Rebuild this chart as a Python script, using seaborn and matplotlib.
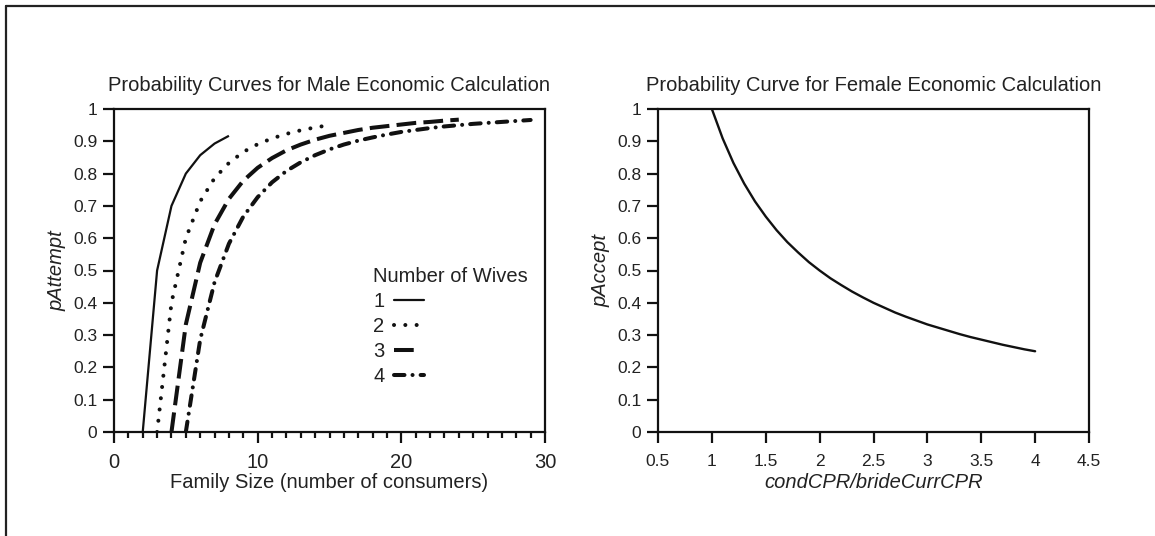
import matplotlib
matplotlib.use("Agg")
import matplotlib.pyplot as plt
from matplotlib.lines import Line2D
from matplotlib.ticker import FixedLocator, MultipleLocator
import pandas as pd
import seaborn as sns

# ---- male economic calculation: pAttempt vs family size, per number of wives ----
wives = ["1", "2", "3", "4"]

size_w1 = [2, 3, 4, 5, 6, 7, 8]
p_attempt_w1 = [0, 0.5, 0.7, 0.8, 0.857, 0.893, 0.917]

size_w2 = [3, 4, 5, 6, 7, 8, 9, 10, 11, 12, 13, 14, 15]
p_attempt_w2 = [0, 0.4, 0.6, 0.714, 0.786, 0.833, 0.867, 0.891, 0.909, 0.923,
                0.934, 0.943, 0.95]

size_w3 = [4, 5, 6, 7, 8, 9, 10, 11, 12, 13, 14, 15, 16, 17, 18, 19, 20, 21,
           22, 23, 24]
p_attempt_w3 = [0, 0.333, 0.524, 0.643, 0.722, 0.778, 0.818, 0.848, 0.872,
                0.890, 0.905, 0.917, 0.926, 0.935, 0.942, 0.947, 0.952, 0.957,
                0.960, 0.964, 0.967]

size_w4 = [5, 6, 7, 8, 9, 10, 11, 12, 13, 14, 15, 16, 17, 18, 19, 20, 21, 22,
           23, 24, 25, 26, 27, 28, 29]
p_attempt_w4 = [0, 0.286, 0.464, 0.583, 0.667, 0.727, 0.773, 0.808, 0.835,
                0.857, 0.875, 0.890, 0.902, 0.912, 0.921, 0.929, 0.935, 0.941,
                0.946, 0.950, 0.954, 0.957, 0.960, 0.963, 0.966]

male_sizes = [size_w1, size_w2, size_w3, size_w4]
male_probs = [p_attempt_w1, p_attempt_w2, p_attempt_w3, p_attempt_w4]

# ---- female economic calculation: pAccept vs CPR ratio ----
cpr_ratio = [1.0, 1.1, 1.2, 1.3, 1.4, 1.5, 1.6, 1.7, 1.8, 1.9, 2.0, 2.1, 2.2,
             2.3, 2.4, 2.5, 2.6, 2.7, 2.8, 2.9, 3.0, 3.1, 3.2, 3.3, 3.4, 3.5,
             3.6, 3.7, 3.8, 3.9, 4.0]
p_accept = [1.000, 0.909, 0.833, 0.769, 0.714, 0.667, 0.625, 0.588, 0.556,
            0.526, 0.500, 0.476, 0.455, 0.435, 0.417, 0.400, 0.385, 0.370,
            0.357, 0.345, 0.333, 0.323, 0.313, 0.303, 0.294, 0.286, 0.278,
            0.270, 0.263, 0.256, 0.250]

y_ticks = [0, 0.1, 0.2, 0.3, 0.4, 0.5, 0.6, 0.7, 0.8, 0.9, 1]
y_tick_labels = ["0", "0.1", "0.2", "0.3", "0.4", "0.5", "0.6", "0.7", "0.8",
                 "0.9", "1"]
left_x_ticks = [0, 10, 20, 30]
left_x_tick_labels = ["0", "10", "20", "30"]
right_x_ticks = [0.5, 1, 1.5, 2, 2.5, 3, 3.5, 4, 4.5]
right_x_tick_labels = ["0.5", "1", "1.5", "2", "2.5", "3", "3.5", "4", "4.5"]

sns.set_theme(style="ticks")
plt.rcParams["font.family"] = ["Liberation Sans", "DejaVu Sans"]

INK = "#111111"
TXT = "#222222"
BIG = 14.5
SMALL = 12.5

# line look per number of wives:
# (linewidth, dash pattern on the curve, dash pattern in the legend, capstyle)
line_looks = {
    "1": (1.6, None, None, "butt"),
    "2": (2.9, (0.01, 2.8), (0.01, 2.8), "round"),
    "3": (2.9, (4.9, 1.8), (4.9, 6.0), "butt"),
    "4": (2.9, (2.6, 2.0, 0.01, 2.0), (2.6, 2.0, 0.01, 2.0), "round"),
}

W, H = 1155, 536
fig = plt.figure(figsize=(W / 100, H / 100), dpi=100)
fig.patch.set_facecolor("white")

ax_m = fig.add_axes([114 / W, 1 - 432 / H, 431 / W, 323 / H])
ax_f = fig.add_axes([658 / W, 1 - 432 / H, 431 / W, 323 / H])

male_df = pd.concat(
    [pd.DataFrame({"size": s, "p": p, "wives": w})
     for s, p, w in zip(male_sizes, male_probs, wives)],
    ignore_index=True,
)

handles = []
for w in wives:
    sub = male_df[male_df["wives"] == w]
    sns.lineplot(data=sub, x="size", y="p", ax=ax_m, color=INK,
                 errorbar=None, sort=False, legend=False)
    line = ax_m.lines[-1]
    lw, dash, leg_dash, cap = line_looks[w]
    line.set_linewidth(lw)
    if dash is not None:
        line.set_linestyle((0, dash))
    line.set_dash_capstyle(cap)
    line.set_solid_capstyle("butt")
    h = Line2D([], [], color=INK, lw=lw,
               linestyle="-" if leg_dash is None else (0, leg_dash))
    h.set_dash_capstyle(cap)
    handles.append(h)

female_df = pd.DataFrame({"ratio": cpr_ratio, "p": p_accept})
sns.lineplot(data=female_df, x="ratio", y="p", ax=ax_f, color=INK, lw=1.7,
             errorbar=None)

for ax in (ax_m, ax_f):
    for sp in ax.spines.values():
        sp.set_visible(True)
        sp.set_linewidth(1.6)
        sp.set_color(INK)
    ax.set_ylim(0, 1)
    ax.yaxis.set_major_locator(FixedLocator(y_ticks))
    ax.set_yticklabels(y_tick_labels)
    ax.tick_params(axis="both", which="major", direction="out", length=8,
                   width=1.6, color=INK, labelsize=SMALL, labelcolor=TXT)
    ax.tick_params(axis="y", pad=4)
    ax.set_facecolor("white")
    ax.grid(False)

ax_m.set_xlim(0, 30)
ax_m.xaxis.set_major_locator(FixedLocator(left_x_ticks))
ax_m.set_xticklabels(left_x_tick_labels)
ax_m.xaxis.set_minor_locator(MultipleLocator(1))
ax_m.tick_params(axis="x", which="minor", direction="out", length=4,
                 width=1.6, color=INK)
ax_m.tick_params(axis="x", which="major", labelsize=BIG, pad=7)

ax_f.set_xlim(0.5, 4.5)
ax_f.xaxis.set_major_locator(FixedLocator(right_x_ticks))
ax_f.set_xticklabels(right_x_tick_labels)
ax_f.tick_params(axis="x", which="major", pad=8)

ax_m.set_title("Probability Curves for Male Economic Calculation",
               fontsize=BIG, color=TXT, pad=13)
ax_f.set_title("Probability Curve for Female Economic Calculation",
               fontsize=BIG, color=TXT, pad=13)

ax_m.set_xlabel("Family Size (number of consumers)", fontsize=BIG, color=TXT,
                labelpad=1)
ax_m.set_ylabel("pAttempt", fontsize=BIG, color=TXT, style="italic",
                labelpad=5)
ax_f.set_xlabel("condCPR/brideCurrCPR", fontsize=BIG, color=TXT,
                style="italic", labelpad=3)
ax_f.set_ylabel("pAccept", fontsize=BIG, color=TXT, style="italic",
                labelpad=5)

leg = ax_m.legend(handles, wives, title="Number of Wives", frameon=False,
                  markerfirst=False, loc="upper left",
                  bbox_to_anchor=(363 / W, 1 - 257 / H),
                  bbox_transform=fig.transFigure, borderpad=0,
                  fontsize=BIG, title_fontsize=BIG, handlelength=1.45,
                  handletextpad=0.5, labelspacing=0.3, alignment="left")
for t in leg.get_texts():
    t.set_color(TXT)
leg.get_title().set_color(TXT)

# outer frame: left and top rules
fig.add_artist(Line2D([6 / W, 6 / W], [0, 1 - 6 / H], transform=fig.transFigure,
                      color="#222222", lw=1.6))
fig.add_artist(Line2D([6 / W, 1], [1 - 6 / H, 1 - 6 / H],
                      transform=fig.transFigure, color="#222222", lw=1.6))

fig.savefig("out.png", dpi=100, facecolor="white")
